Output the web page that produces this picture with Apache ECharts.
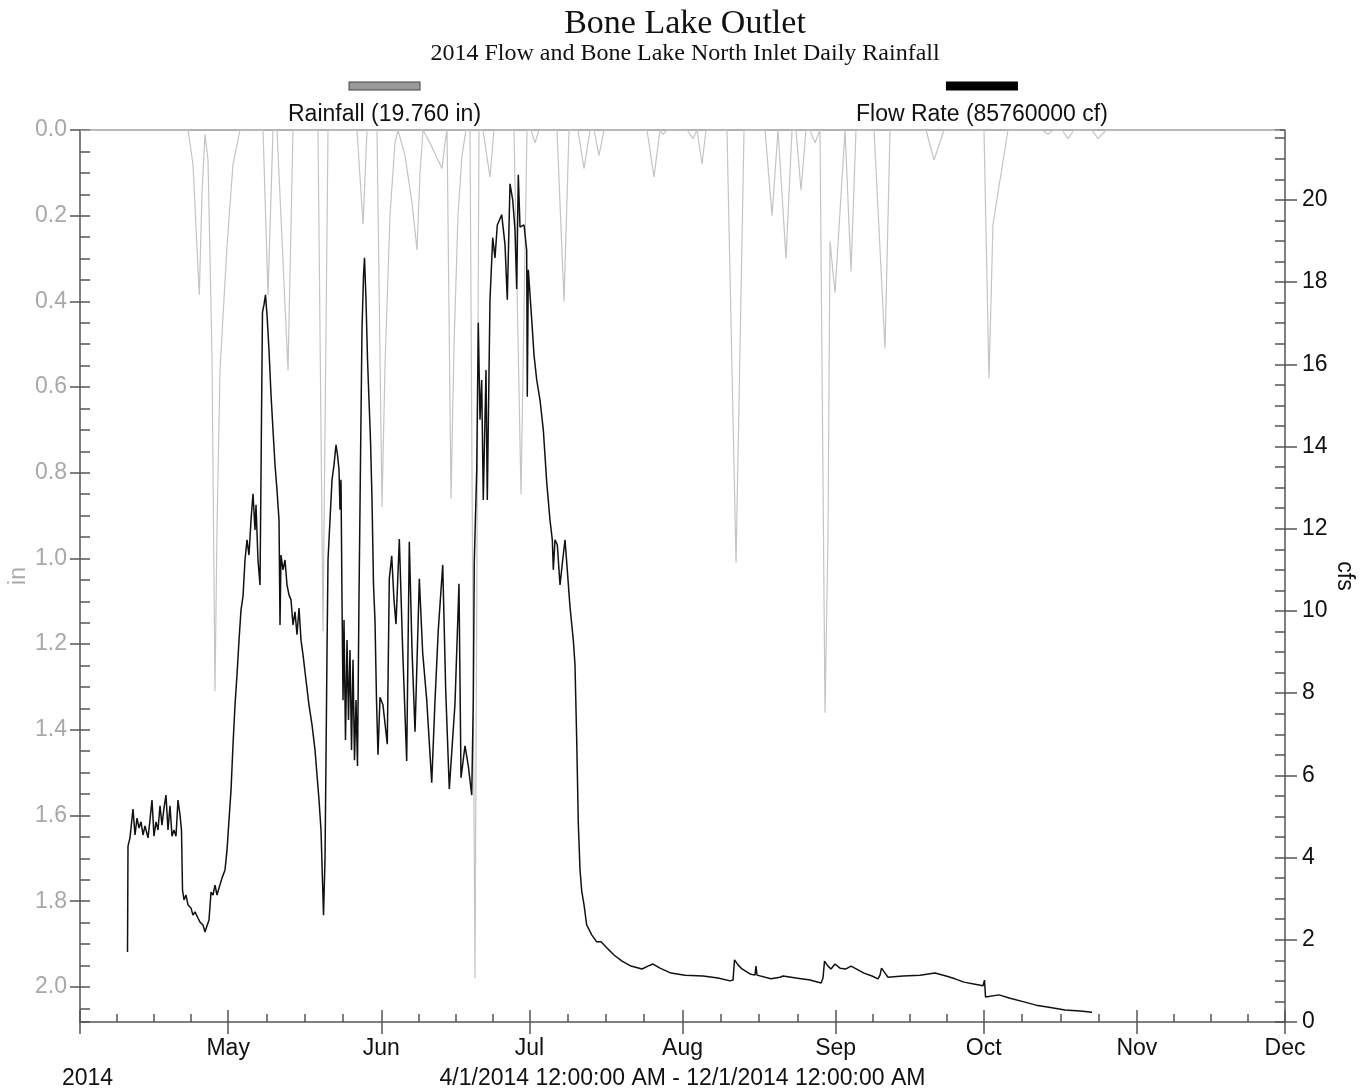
<!DOCTYPE html>
<html>
<head>
<meta charset="utf-8">
<script src="https://cdn.jsdelivr.net/npm/echarts@6/dist/echarts.min.js"></script>
<style>html,body{margin:0;padding:0;background:#fff}#c{width:1370px;height:1091px}</style>
</head>
<body>
<div id="c"></div>
<script>
// ---- data ----
const titleText = 'Bone Lake Outlet';
const subtitleText = '2014 Flow and Bone Lake North Inlet Daily Rainfall';
const monthNames = ['Jan','Feb','Mar','Apr','May','Jun','Jul','Aug','Sep','Oct','Nov','Dec'];
const rangeText = '4/1/2014 12:00:00 AM - 12/1/2014 12:00:00 AM';
const yearText = '2014';
const rainName = 'Rainfall (19.760 in)';
const flowName = 'Flow Rate (85760000 cf)';

// rainfall: days since 4/1/2014 and inches
const rainDay = [0,21.87,22.88,23.63,24.16,24.70,25.31,25.92,26.73,27.34,27.74,28.35,29.77,30.98,32.40,
  37.06,38.07,39.08,39.89,42.12,43.13,48.19,49.21,50.22,56.09,57.31,58.12,
  60.14,61.15,61.76,62.77,63.78,64.39,65.81,67.23,68.24,68.85,69.46,69.86,71.28,72.49,73.30,73.91,74.32,
  75.13,75.74,76.54,77.35,78.16,78.97,79.98,80.79,81.60,83.02,83.83,87.88,89.30,90.51,91.32,92.13,92.94,
  96.59,98.01,99.02,100.84,102.06,103.27,104.08,105.09,106.11,114.81,116.23,117.44,118.05,118.86,
  122.91,124.13,124.94,125.95,126.76,131.01,132.84,134.46,138.71,140.13,141.34,141.74,142.96,144.17,
  144.98,146.00,147.01,147.82,148.83,149.84,150.86,151.46,151.87,152.88,154.91,155.11,156.12,157.13,
  160.78,163.01,164.02,171.31,172.93,174.95,183.05,184.06,184.87,187.91,194.80,196.01,197.03,
  198.85,200.06,201.28,204.92,206.14,207.76,243];
const rainIn = [0,0,0.08,0.26,0.385,0.15,0.01,0.07,0.53,1.31,0.93,0.56,0.27,0.08,0,
  0,0.385,0,0,0.56,0,0,1.17,0,0,0.22,0,
  0,0.88,0.55,0.2,0.03,0,0.06,0.17,0.28,0.1,0,0,0.04,0.07,0.09,0.03,0,
  0.86,0.5,0.2,0.06,0,0,1.98,0,0,0.11,0,0,0.85,0,0,0.03,0,
  0,0.40,0,0,0.09,0,0,0.06,0,0,0.11,0,0.01,0,
  0,0.02,0,0.08,0,0,1.01,0,0,0.20,0,0,0.30,0,
  0,0.14,0,0,0.03,0,1.36,0.95,0.26,0.38,0,0,0.33,0,
  0,0.51,0,0,0.07,0,0,0.58,0.22,0,0,0.01,0,
  0,0.02,0,0,0.02,0,0];

// flow rate: days since 4/1/2014 and cfs
const flowDay = [9.62,9.72,10.12,10.73,11.14,11.54,11.95,12.35,12.76,13.16,13.77,14.17,14.58,14.98,15.39,15.79,
  16.20,16.60,17.01,17.41,17.82,18.22,18.63,19.03,19.44,19.84,20.25,20.55,20.76,21.06,21.46,21.87,22.48,
  22.88,23.29,23.89,24.30,24.91,25.31,25.72,26.12,26.53,26.93,27.34,27.74,28.15,28.75,29.36,29.77,30.17,
  30.58,30.98,31.39,31.79,32.20,32.60,33.01,33.41,33.82,34.22,34.63,35.03,35.44,35.64,36.04,36.45,36.75,
  36.95,37.26,37.56,37.87,38.27,38.68,39.08,39.49,39.89,40.30,40.50,40.70,41.11,41.51,41.92,42.32,42.73,
  43.13,43.54,43.94,44.35,44.75,45.16,45.76,46.37,46.98,47.59,47.99,48.40,48.80,49.10,49.31,49.61,49.81,
  50.02,50.22,50.62,51.03,51.43,51.84,52.14,52.45,52.65,52.85,53.05,53.26,53.46,53.76,54.07,54.37,54.67,
  54.98,55.28,55.58,55.89,56.19,56.49,56.80,57.10,57.41,57.61,57.91,58.22,58.52,58.82,59.13,59.43,59.73,
  60.04,60.34,60.75,61.35,62.22,62.63,63.12,63.58,63.99,64.66,65.34,66.15,66.68,67.23,67.84,68.71,69.39,
  70.21,71.22,71.89,72.55,73.45,74.05,74.78,75.93,76.74,77.15,77.96,78.63,79.32,79.64,79.84,80.33,80.65,
  81.00,81.34,81.66,82.21,82.47,83.02,83.57,84.03,84.50,85.39,86.06,86.52,87.07,87.62,88.08,88.43,88.75,
  89.10,89.91,90.45,90.57,90.78,91.47,91.93,92.48,93.15,93.82,94.50,95.17,95.64,95.84,96.18,96.65,97.20,
  97.74,98.21,98.67,99.22,99.89,100.23,100.58,100.90,101.25,101.59,102.06,102.60,103.62,104.63,
  105.50,106.71,108.13,109.75,111.57,113.80,115.01,116.03,117.44,119.67,122.51,126.15,129.19,131.62,
  132.23,132.53,133.24,134.05,135.67,136.68,136.88,137.09,139.92,141.74,142.35,144.98,147.82,150.05,
  150.45,150.76,151.46,152.07,152.88,153.89,155.11,156.12,157.54,158.75,160.37,161.59,161.99,162.30,
  163.01,163.61,166.65,170.09,173.13,175.36,177.18,179.00,181.23,182.85,183.15,183.36,186.09,188.32,
  191.15,193.58,196.21,199.45,202.49,204.92];
const flowCfs = [1.70,4.28,4.48,5.18,4.55,4.96,4.72,4.87,4.55,4.77,4.48,4.91,5.40,4.52,4.87,4.67,
  5.26,4.79,5.21,5.52,4.67,5.26,4.52,4.67,4.52,5.40,5.04,4.67,3.21,2.97,3.09,2.85,2.77,
  2.60,2.68,2.53,2.43,2.36,2.19,2.34,2.48,3.16,3.09,3.33,3.09,3.26,3.50,3.70,4.18,4.91,
  5.64,6.74,7.71,8.44,9.29,10.02,10.36,11.24,11.73,11.36,12.21,12.85,11.97,12.58,11.24,10.63,14.65,
  17.27,17.45,17.69,17.20,16.35,15.26,14.40,13.55,12.94,12.21,9.66,11.36,11.00,11.24,10.63,10.39,10.27,
  9.66,9.98,9.42,10.07,9.29,8.93,8.32,7.71,7.23,6.62,6.01,5.40,4.67,3.45,2.60,3.94,6.37,
  9.05,11.24,12.21,13.19,13.55,14.04,13.80,13.43,12.46,13.19,10.27,7.83,9.78,6.86,9.29,7.35,9.05,
  6.62,8.81,6.37,7.83,6.23,10.27,13.67,16.84,18.17,18.59,17.57,16.11,15.13,14.16,12.70,10.63,9.78,
  7.83,6.50,7.90,7.71,6.76,10.78,11.34,10.27,9.68,11.75,9.05,6.35,11.68,9.05,7.06,10.78,8.98,
  7.83,5.82,7.83,9.54,11.12,8.08,5.67,7.74,10.66,5.94,6.72,6.23,5.52,7.83,11.19,13.43,17.01,
  14.65,15.62,12.70,15.86,12.70,17.57,19.08,18.59,19.39,19.64,18.91,17.57,20.39,20.00,19.27,17.83,20.61,
  19.34,19.39,18.78,15.21,18.30,17.08,16.23,15.62,15.13,14.40,13.14,12.21,11.73,11.00,11.73,11.61,10.63,
  11.24,11.73,11.00,10.10,9.29,8.69,6.86,4.84,3.70,3.19,2.85,2.36,2.12,1.95,
  1.95,1.80,1.63,1.48,1.36,1.29,1.36,1.41,1.31,1.19,1.14,1.12,1.07,1.00,
  1.02,1.51,1.39,1.29,1.17,1.14,1.36,1.14,1.05,1.09,1.12,1.07,1.02,0.95,
  1.07,1.48,1.36,1.29,1.41,1.31,1.29,1.36,1.27,1.19,1.12,1.05,1.14,1.31,
  1.19,1.09,1.12,1.14,1.19,1.12,1.05,0.97,0.92,0.88,1.02,0.61,0.66,0.58,
  0.49,0.41,0.36,0.29,0.27,0.24];

// ---- build ----
const DAY = 86400000;
const START = new Date(2014, 3, 1).getTime();
const END = new Date(2014, 11, 1).getTime();
const toTime = d => START + d * DAY;
const rainData = rainDay.map((d, i) => [toTime(d), rainIn[i]]);
const flowData = flowDay.map((d, i) => [toTime(d), flowCfs[i]]);

const SANS = 'Liberation Sans, Arial, sans-serif';
const SERIF = 'Liberation Serif, Times New Roman, serif';
const AX = '#555';
const FS = 23;

const chart = echarts.init(document.getElementById('c'), null, {renderer: 'canvas'});
const timeBase = {
  type: 'time', min: START, max: END, splitNumber: 8,
  minInterval: 28 * DAY, maxInterval: 31 * DAY,
  splitLine: {show: false}
};
const legendRich = (fill, stroke) => ({rich: {
  bar: {width: 70, height: 7, lineHeight: 31, backgroundColor: fill, borderColor: stroke, borderWidth: 1, align: 'center'},
  t: {fontFamily: SANS, fontSize: FS, lineHeight: 26, color: '#111', align: 'center'}}});
chart.setOption({
  animation: false,
  backgroundColor: '#fff',
  title: [
    {text: titleText, left: 'center', top: 2, textStyle: {fontFamily: SERIF, fontSize: 34, fontWeight: 'normal', color: '#111'}},
    {text: subtitleText, left: 'center', top: 37, textStyle: {fontFamily: SERIF, fontSize: 24, fontWeight: 'normal', color: '#111'}}
  ],
  legend: [
    {data: [rainName], left: 282, top: 80, itemWidth: 0, itemHeight: 0, padding: 0,
     formatter: n => '{bar|}\n{t|' + n + '}', textStyle: legendRich('#9a9a9a', '#444')},
    {data: [flowName], left: 850, top: 80, itemWidth: 0, itemHeight: 0, padding: 0,
     formatter: n => '{bar|}\n{t|' + n + '}', textStyle: legendRich('#000', '#000')}
  ],
  grid: {left: 80, right: 85, top: 130, bottom: 69, containLabel: false, outerBoundsMode: 'none'},
  graphic: [
    {type: 'text', left: 62, top: 1067, style: {text: yearText, fontFamily: SANS, fontSize: FS, fill: '#111'}}
  ],
  xAxis: [
    Object.assign({}, timeBase, {
      position: 'bottom',
      axisLine: {show: true, onZero: false, lineStyle: {color: AX, width: 1.5}},
      axisTick: {show: true, inside: false, length: 12, lineStyle: {color: AX, width: 1.5}},
      axisLabel: {show: true, margin: 15, color: '#111', fontFamily: SANS, fontSize: FS,
        showMinLabel: true, showMaxLabel: true, hideOverlap: false,
        formatter: v => { const m = new Date(v).getMonth(); return m === 3 ? '' : monthNames[m]; }},
      name: rangeText, nameLocation: 'middle', nameGap: 45,
      nameTextStyle: {fontFamily: SANS, fontSize: FS, color: '#111'}
    }),
    Object.assign({}, timeBase, {
      position: 'bottom',
      axisLine: {show: false, onZero: false},
      axisTick: {show: true, inside: true, length: 12, lineStyle: {color: AX, width: 1.5}},
      minorTick: {show: true, splitNumber: 4, length: 8, lineStyle: {color: AX, width: 1.5}},
      axisLabel: {show: false}
    }),
    Object.assign({}, timeBase, {
      position: 'top',
      axisLine: {show: true, onZero: false, lineStyle: {color: '#999', width: 1.5}},
      axisTick: {show: false}, axisLabel: {show: false}
    })
  ],
  yAxis: [
    {type: 'value', position: 'left', inverse: true, min: 0, max: 2.082, interval: 0.2,
     axisLine: {show: true, onZero: false, lineStyle: {color: AX, width: 1.5}},
     axisTick: {show: true, inside: false, length: 10, lineStyle: {color: AX, width: 1.5}},
     axisLabel: {show: true, margin: 13, color: '#a8a8a8', fontFamily: SANS, fontSize: FS, showMaxLabel: false,
       formatter: v => v.toFixed(1)},
     splitLine: {show: false},
     name: 'in', nameLocation: 'middle', nameGap: 50, nameRotate: 90, nameMoveOverlap: false,
     nameTextStyle: {fontFamily: SANS, fontSize: FS, color: '#aaa'}},
    {type: 'value', position: 'left', inverse: true, min: 0, max: 2.082, interval: 0.05,
     axisLine: {show: false, onZero: false},
     axisTick: {show: true, inside: true, length: 10, lineStyle: {color: AX, width: 1.5}},
     axisLabel: {show: false}, splitLine: {show: false}},
    {type: 'value', position: 'right', min: 0, max: 21.7, interval: 2,
     axisLine: {show: true, onZero: false, lineStyle: {color: AX, width: 1.5}},
     axisTick: {show: true, inside: false, length: 12, lineStyle: {color: AX, width: 1.5}},
     axisLabel: {show: true, margin: 17, color: '#111', fontFamily: SANS, fontSize: FS, showMaxLabel: false},
     splitLine: {show: false},
     name: 'cfs', nameLocation: 'middle', nameGap: 48, nameRotate: -90, nameMoveOverlap: false,
     nameTextStyle: {fontFamily: SANS, fontSize: FS, color: '#111'}},
    {type: 'value', position: 'right', min: 0, max: 21.7, interval: 0.5,
     axisLine: {show: false, onZero: false},
     axisTick: {show: true, inside: true, length: 10, lineStyle: {color: AX, width: 1.5}},
     axisLabel: {show: false}, splitLine: {show: false}}
  ],
  series: [
    {name: rainName, type: 'line', xAxisIndex: 0, yAxisIndex: 0, data: rainData,
     showSymbol: false, symbol: 'none', lineStyle: {color: '#c4c4c4', width: 1.2}, itemStyle: {color: '#9a9a9a'}, z: 2},
    {name: flowName, type: 'line', xAxisIndex: 0, yAxisIndex: 2, data: flowData,
     showSymbol: false, symbol: 'none', lineStyle: {color: '#111', width: 1.5}, itemStyle: {color: '#000'}, z: 3}
  ]
});
</script>
</body>
</html>
